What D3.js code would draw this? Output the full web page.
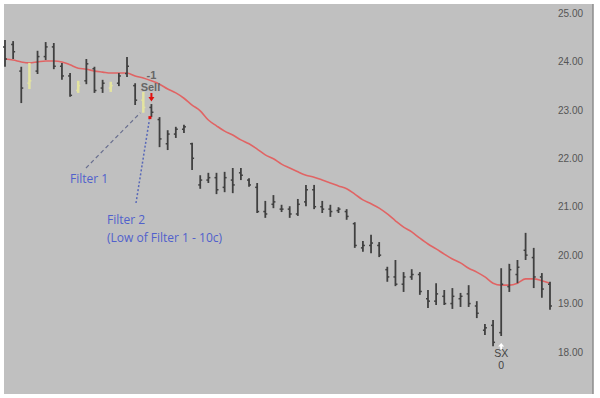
<!DOCTYPE html>
<html>
<head>
<meta charset="utf-8">
<script src="https://cdn.jsdelivr.net/npm/d3@7"></script>
<style>
  body { margin: 0; background: #fff; }
  svg { display: block; }
</style>
</head>
<body>
<svg></svg>
<script>
const size = {w: 600, h: 398};
const plot = {l: 4, t: 4, r: 593, b: 394};

// bar data (one entry per session)
const highs = [24.44, 24.42, 23.89, 23.97, 24.22, 24.40, 24.38, 23.97, 23.76, 23.60,
    24.05, 23.89, 23.62, 23.58, 23.76, 24.09, 23.55, 23.37, 23.12, 22.85,
    22.58, 22.65, 22.69, 22.32, 21.65, 21.70, 21.70, 21.72, 21.80, 21.80,
    21.59, 21.49, 21.12, 21.24, 21.04, 21.01, 21.16, 21.45, 21.45, 21.12,
    21.04, 20.99, 20.95, 20.68, 20.29, 20.42, 20.27, 19.76, 19.90, 19.65,
    19.71, 19.65, 19.28, 19.42, 19.28, 19.32, 19.22, 19.38, 19.05, 18.58,
    18.66, 19.73, 19.82, 19.90, 20.46, 20.15, 19.63, 19.45];
const lows = [23.89, 24.05, 23.14, 23.43, 23.74, 24.03, 23.84, 23.62, 23.27, 23.35,
    23.53, 23.35, 23.35, 23.37, 23.49, 23.68, 23.10, 22.94, 22.85, 22.23,
    22.17, 22.42, 22.52, 21.76, 21.37, 21.49, 21.26, 21.30, 21.28, 21.55,
    21.41, 20.87, 20.77, 20.97, 20.89, 20.77, 20.81, 21.01, 20.95, 20.87,
    20.79, 20.87, 20.73, 20.15, 20.07, 20.04, 19.96, 19.45, 19.36, 19.24,
    19.49, 19.18, 18.91, 18.97, 18.97, 18.89, 18.93, 18.93, 18.70, 18.35,
    18.12, 18.33, 19.24, 19.42, 19.90, 19.32, 19.12, 18.87];
const opens = [24.30, 24.35, 23.80, 23.55, 23.80, 24.10, 24.30, 23.90, 23.70, 23.40,
    23.60, 23.85, 23.45, 23.45, 23.55, 23.75, 23.50, 23.20, 23.05, 22.80,
    22.30, 22.50, 22.60, 22.30, 21.45, 21.55, 21.60, 21.40, 21.55, 21.70,
    21.55, 21.40, 20.90, 21.05, 20.95, 20.95, 20.85, 21.10, 21.35, 21.00,
    20.95, 20.92, 20.90, 20.65, 20.15, 20.20, 20.20, 19.70, 19.55, 19.40,
    19.55, 19.60, 19.10, 19.05, 19.15, 19.00, 19.10, 19.20, 18.95, 18.45,
    18.55, 18.40, 19.35, 19.60, 20.10, 19.95, 19.55, 19.40];
const closes = [24.05, 24.20, 23.45, 23.60, 24.10, 24.30, 23.90, 23.70, 23.30, 23.50,
    23.95, 23.40, 23.55, 23.50, 23.70, 23.90, 23.20, 23.05, 22.95, 22.40,
    22.50, 22.60, 22.65, 22.00, 21.55, 21.60, 21.35, 21.60, 21.45, 21.65,
    21.45, 20.90, 20.85, 21.10, 20.95, 20.85, 21.05, 21.35, 21.00, 20.95,
    20.90, 20.95, 20.80, 20.20, 20.20, 20.25, 20.00, 19.55, 19.40, 19.55,
    19.60, 19.25, 19.05, 19.20, 19.00, 19.15, 19.15, 19.00, 18.80, 18.50,
    18.20, 19.40, 19.70, 19.75, 20.00, 19.55, 19.30, 18.95];
// moving average line
const ma = [24.05, 24.03, 23.99, 23.97, 23.99, 24.01, 24.01, 23.99, 23.93, 23.86,
    23.84, 23.80, 23.78, 23.76, 23.76, 23.76, 23.70, 23.66, 23.60, 23.53,
    23.43, 23.35, 23.24, 23.10, 22.98, 22.79, 22.67, 22.56, 22.48, 22.38,
    22.30, 22.19, 22.07, 21.99, 21.88, 21.80, 21.72, 21.65, 21.61, 21.55,
    21.49, 21.43, 21.37, 21.26, 21.14, 21.06, 20.97, 20.85, 20.71, 20.58,
    20.48, 20.35, 20.23, 20.13, 20.02, 19.92, 19.84, 19.73, 19.65, 19.55,
    19.42, 19.38, 19.38, 19.42, 19.51, 19.51, 19.47, 19.42];
const filterBars = [3, 9, 13, 17];   // yellow highlighted bars
const yTicks = [18, 19, 20, 21, 22, 23, 24, 25];
const sellBar = 18;
const sellPrice = 22.84;   // low of filter 1 - 10c
const exitBar = 61;

const svg = d3.select('svg')
    .attr('width', size.w)
    .attr('height', size.h);

const idx = d3.range(highs.length);
const x = d3.scalePoint().domain(idx).range([5, 550]);
const y = d3.scaleLinear().domain([18, 25]).range([352, 13]);

// background panel
svg.append('rect')
    .attr('x', plot.l).attr('y', plot.t)
    .attr('width', plot.r - plot.l).attr('height', plot.b - plot.t)
    .attr('fill', '#c0c0c0');
svg.append('line')
    .attr('x1', plot.r).attr('x2', plot.r)
    .attr('y1', plot.t).attr('y2', plot.b)
    .attr('stroke', '#8c8c8c').attr('stroke-width', 1.5);

// price axis on the right
const axis = svg.append('g')
    .attr('transform', `translate(558,0)`)
    .call(d3.axisRight(y).tickValues(yTicks).tickFormat(d3.format('.2f')).tickSize(0).tickPadding(0));
axis.select('.domain').remove();
axis.selectAll('text')
    .attr('font-family', 'Liberation Sans, Arial, sans-serif')
    .attr('font-size', 10)
    .attr('fill', '#555');

// moving average
const line = d3.line()
    .x((d, i) => x(i))
    .y(d => y(d))
    .curve(d3.curveMonotoneX);
svg.append('path')
    .datum(ma)
    .attr('fill', 'none')
    .attr('stroke', '#e06464')
    .attr('stroke-width', 1.6)
    .attr('d', line);

// OHLC bars
const bars = svg.append('g')
    .selectAll('g')
    .data(idx)
    .join('g')
    .attr('stroke', i => filterBars.includes(i) ? '#e4e4a0' : '#404040');
bars.append('line')
    .attr('x1', i => x(i)).attr('x2', i => x(i))
    .attr('y1', i => y(highs[i])).attr('y2', i => y(lows[i]))
    .attr('stroke-width', i => filterBars.includes(i) ? 2.5 : 1.8);
bars.append('line')
    .attr('x1', i => x(i) - 2).attr('x2', i => x(i))
    .attr('y1', i => y(opens[i])).attr('y2', i => y(opens[i]))
    .attr('stroke-width', 1.5);
bars.append('line')
    .attr('x1', i => x(i)).attr('x2', i => x(i) + 2)
    .attr('y1', i => y(closes[i])).attr('y2', i => y(closes[i]))
    .attr('stroke-width', 1.5);

// sell signal
const sx = x(sellBar);
svg.append('path')
    .attr('d', `M${sx - 1},${y(23.35)} h2 v4 h2 l-3,4.5 l-3,-4.5 h2 z`)
    .attr('fill', '#e01010');
svg.append('rect')
    .attr('x', sx - 3).attr('y', y(sellPrice) - 1.5)
    .attr('width', 3).attr('height', 3)
    .attr('fill', '#e01010');
svg.append('text')
    .attr('x', sx - 1).attr('y', y(23.39))
    .attr('text-anchor', 'middle')
    .attr('font-family', 'Liberation Sans, Arial, sans-serif')
    .attr('font-size', 11).attr('font-weight', 'bold')
    .attr('fill', '#666')
    .text('Sell');
svg.append('text')
    .attr('x', sx).attr('y', y(23.39) - 12)
    .attr('text-anchor', 'middle')
    .attr('font-family', 'Liberation Sans, Arial, sans-serif')
    .attr('font-size', 11).attr('font-weight', 'bold')
    .attr('fill', '#666')
    .text('-1');

// exit signal
const ex = x(exitBar);
svg.append('path')
    .attr('d', `M${ex - 1},${y(18.05)} v-3 h-2 l3,-3.5 l3,3.5 h-2 v3 z`)
    .attr('fill', '#fff');
svg.append('text')
    .attr('x', ex).attr('y', 357)
    .attr('text-anchor', 'middle')
    .attr('font-family', 'Liberation Sans, Arial, sans-serif')
    .attr('font-size', 10.5)
    .attr('fill', '#444')
    .text('SX');
svg.append('text')
    .attr('x', ex).attr('y', 369)
    .attr('text-anchor', 'middle')
    .attr('font-family', 'Liberation Sans, Arial, sans-serif')
    .attr('font-size', 10.5)
    .attr('fill', '#444')
    .text('0');

// callouts
svg.append('line')
    .attr('x1', 86).attr('y1', 168)
    .attr('x2', x(17) - 3).attr('y2', y(lows[17]))
    .attr('stroke', '#6a7090').attr('stroke-width', 1.2)
    .attr('stroke-dasharray', '4,3');
svg.append('line')
    .attr('x1', 136).attr('y1', 203)
    .attr('x2', sx - 2).attr('y2', y(sellPrice) + 2)
    .attr('stroke', '#5868b8').attr('stroke-width', 1.5)
    .attr('stroke-dasharray', '2,2');

const notes = svg.append('g')
    .attr('font-family', 'Open Sans, sans-serif')
    .attr('font-size', 12)
    .attr('fill', '#5060cc');
notes.append('text').attr('x', 70).attr('y', 183).text('Filter 1');
notes.append('text').attr('x', 107).attr('y', 224).text('Filter 2');
notes.append('text').attr('x', 107).attr('y', 242).text('(Low of Filter 1 - 10c)');
</script>
</body>
</html>
